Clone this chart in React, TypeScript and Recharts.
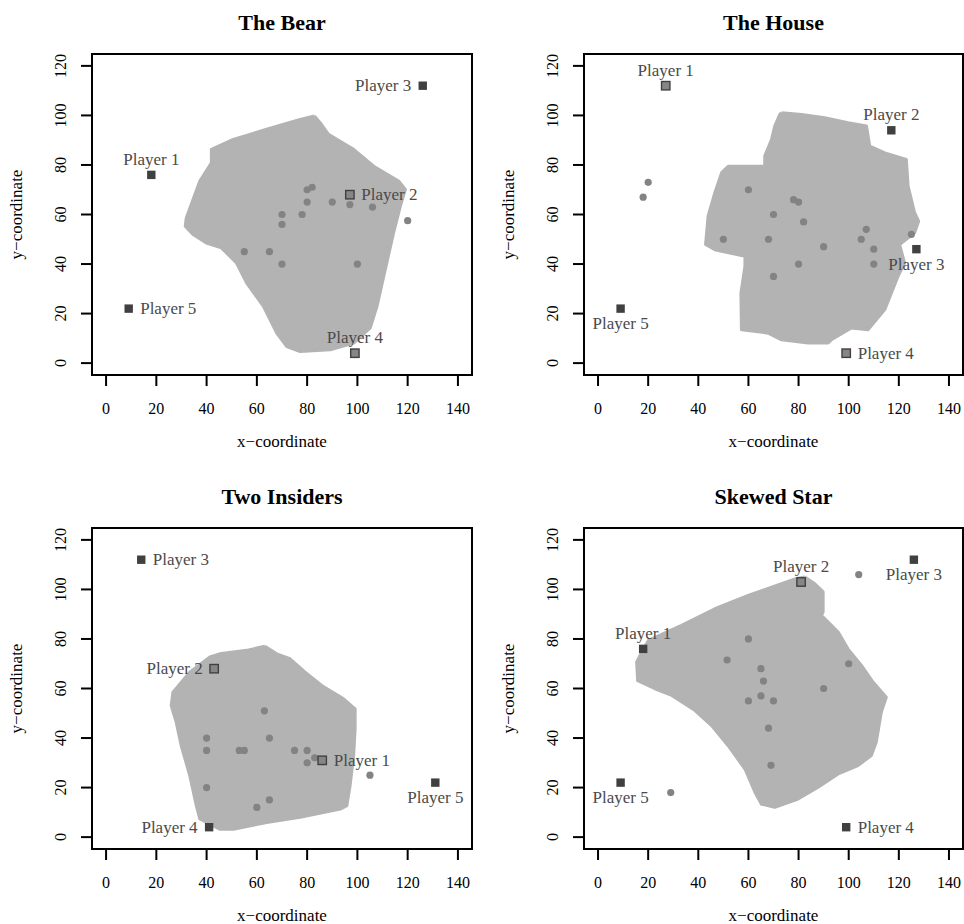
import React from 'react';
import { ScatterChart, Scatter, XAxis, YAxis, ReferenceArea } from 'recharts';

const FONT = '"Liberation Serif", "Times New Roman", Times, serif';

const X_TICKS = [0, 20, 40, 60, 80, 100, 120, 140];
const Y_TICKS = [0, 20, 40, 60, 80, 100, 120];
const X_DOMAIN: [number, number] = [-5.6, 145.6];
const Y_DOMAIN: [number, number] = [-4.8, 124.8];

const X_LABEL = 'x\u2212coordinate';
const Y_LABEL = 'y\u2212coordinate';

// ---------- The Bear ----------
const bearPlayers = [
  { name: 'Player 1', x: 18, y: 76 },
  { name: 'Player 2', x: 97, y: 68 },
  { name: 'Player 3', x: 126, y: 112 },
  { name: 'Player 4', x: 99, y: 4 },
  { name: 'Player 5', x: 9, y: 22 },
];
const bearIdeal = [
  { x: 80, y: 70 }, { x: 82, y: 71 }, { x: 80, y: 65 }, { x: 90, y: 65 }, { x: 97, y: 64 },
  { x: 106, y: 63 }, { x: 70, y: 60 }, { x: 78, y: 60 }, { x: 70, y: 56 }, { x: 120, y: 57.5 },
  { x: 55, y: 45 }, { x: 65, y: 45 }, { x: 70, y: 40 }, { x: 100, y: 40 },
];
const bearCore = [
  { x: 82.9, y: 99.8 }, { x: 85.2, y: 97.1 }, { x: 88.5, y: 92.4 }, { x: 98.5, y: 86.3 },
  { x: 106.5, y: 79.5 }, { x: 116.4, y: 73.5 }, { x: 119.1, y: 70.1 }, { x: 117.1, y: 63.4 },
  { x: 114.4, y: 52.6 }, { x: 110.5, y: 35.1 }, { x: 107.8, y: 22.9 }, { x: 105.1, y: 14.2 },
  { x: 98.5, y: 8.1 }, { x: 89.2, y: 5.4 }, { x: 77.2, y: 4.7 }, { x: 71.9, y: 6.7 },
  { x: 67.9, y: 12.1 }, { x: 62.6, y: 22.9 }, { x: 55.9, y: 32.4 }, { x: 51.9, y: 40.4 },
  { x: 45.9, y: 46.5 }, { x: 39.9, y: 48.5 }, { x: 34.6, y: 51.9 }, { x: 31.5, y: 55.3 },
  { x: 31.9, y: 58.6 }, { x: 34.6, y: 66.1 }, { x: 37.3, y: 73.5 }, { x: 41.9, y: 80.9 },
  { x: 41.9, y: 86.3 }, { x: 50.6, y: 90.3 }, { x: 63.9, y: 94.4 }, { x: 77.2, y: 98.4 },
  { x: 82.9, y: 99.8 },
];
const bearHighlighted = ['Player 2', 'Player 4'];
const bearLabelSides: Record<string, string> = {
  'Player 1': 'top', 'Player 2': 'right', 'Player 3': 'left', 'Player 4': 'top', 'Player 5': 'right',
};

// ---------- The House ----------
const housePlayers = [
  { name: 'Player 1', x: 27, y: 112 },
  { name: 'Player 2', x: 117, y: 94 },
  { name: 'Player 3', x: 127, y: 46 },
  { name: 'Player 4', x: 99, y: 4 },
  { name: 'Player 5', x: 9, y: 22 },
];
const houseIdeal = [
  { x: 20, y: 73 }, { x: 18, y: 67 }, { x: 60, y: 70 }, { x: 78, y: 66 }, { x: 80, y: 65 },
  { x: 70, y: 60 }, { x: 82, y: 57 }, { x: 50, y: 50 }, { x: 68, y: 50 }, { x: 90, y: 47 },
  { x: 107, y: 54 }, { x: 105, y: 50 }, { x: 110, y: 46 }, { x: 125, y: 52 }, { x: 80, y: 40 },
  { x: 110, y: 40 }, { x: 70, y: 35 },
];
const houseCore = [
  { x: 73.2, y: 101.1 }, { x: 81.2, y: 100.4 }, { x: 90.4, y: 99.1 }, { x: 99.7, y: 97.1 },
  { x: 107.1, y: 95.7 }, { x: 108.4, y: 87.6 }, { x: 114.4, y: 84.9 }, { x: 123.0, y: 82.2 },
  { x: 123.7, y: 71.5 }, { x: 126.3, y: 60.7 }, { x: 127.9, y: 57.3 }, { x: 126.3, y: 52.6 },
  { x: 120.3, y: 47.9 }, { x: 122.3, y: 40.4 }, { x: 119.7, y: 35.1 }, { x: 114.4, y: 21.6 },
  { x: 107.7, y: 13.5 }, { x: 101.1, y: 14.2 }, { x: 93.1, y: 9.4 }, { x: 91.8, y: 8.1 },
  { x: 83.8, y: 8.1 }, { x: 73.2, y: 9.4 }, { x: 67.9, y: 12.1 }, { x: 57.2, y: 13.5 },
  { x: 57.0, y: 28.3 }, { x: 58.6, y: 39.1 }, { x: 58.6, y: 43.1 }, { x: 46.6, y: 45.8 },
  { x: 42.9, y: 47.9 }, { x: 43.9, y: 59.3 }, { x: 46.6, y: 68.8 }, { x: 49.3, y: 76.9 },
  { x: 51.9, y: 79.5 }, { x: 66.5, y: 79.5 }, { x: 66.5, y: 83.6 }, { x: 69.2, y: 90.3 },
  { x: 70.5, y: 95.7 }, { x: 72.5, y: 100.4 }, { x: 73.2, y: 101.1 },
];
const houseHighlighted = ['Player 1', 'Player 4'];
const houseLabelSides: Record<string, string> = {
  'Player 1': 'top', 'Player 2': 'top', 'Player 3': 'bottom', 'Player 4': 'right', 'Player 5': 'bottom',
};

// ---------- Two Insiders ----------
const insidersPlayers = [
  { name: 'Player 1', x: 86, y: 31 },
  { name: 'Player 2', x: 43, y: 68 },
  { name: 'Player 3', x: 14, y: 112 },
  { name: 'Player 4', x: 41, y: 4 },
  { name: 'Player 5', x: 131, y: 22 },
];
const insidersIdeal = [
  { x: 63, y: 51 }, { x: 40, y: 40 }, { x: 65, y: 40 }, { x: 40, y: 35 }, { x: 53, y: 35 },
  { x: 55, y: 35 }, { x: 75, y: 35 }, { x: 80, y: 35 }, { x: 83, y: 32 }, { x: 80, y: 30 },
  { x: 105, y: 25 }, { x: 40, y: 20 }, { x: 65, y: 15 }, { x: 60, y: 12 },
];
const insidersCore = [
  { x: 63.2, y: 77.1 }, { x: 67.9, y: 74.0 }, { x: 73.2, y: 72.0 }, { x: 79.2, y: 66.6 },
  { x: 85.8, y: 61.2 }, { x: 94.5, y: 55.8 }, { x: 99.1, y: 51.8 }, { x: 99.1, y: 43.7 },
  { x: 98.5, y: 32.9 }, { x: 97.1, y: 20.8 }, { x: 95.8, y: 12.7 }, { x: 93.2, y: 11.3 },
  { x: 77.2, y: 8.0 }, { x: 63.9, y: 5.9 }, { x: 50.6, y: 3.2 }, { x: 45.2, y: 3.2 },
  { x: 37.3, y: 7.3 }, { x: 35.9, y: 12.7 }, { x: 33.3, y: 24.8 }, { x: 29.9, y: 36.9 },
  { x: 27.9, y: 46.4 }, { x: 25.9, y: 53.1 }, { x: 26.6, y: 58.5 }, { x: 33.3, y: 66.6 },
  { x: 41.3, y: 72.7 }, { x: 45.2, y: 74.0 }, { x: 55.9, y: 75.4 }, { x: 63.2, y: 77.1 },
];
const insidersHighlighted = ['Player 1', 'Player 2'];
const insidersLabelSides: Record<string, string> = {
  'Player 1': 'right', 'Player 2': 'left', 'Player 3': 'right', 'Player 4': 'left', 'Player 5': 'bottom',
};

// ---------- Skewed Star ----------
const starPlayers = [
  { name: 'Player 1', x: 18, y: 76 },
  { name: 'Player 2', x: 81, y: 103 },
  { name: 'Player 3', x: 126, y: 112 },
  { name: 'Player 4', x: 99, y: 4 },
  { name: 'Player 5', x: 9, y: 22 },
];
const starIdeal = [
  { x: 104, y: 106 }, { x: 60, y: 80 }, { x: 51.5, y: 71.5 }, { x: 65, y: 68 }, { x: 100, y: 70 },
  { x: 66, y: 63 }, { x: 90, y: 60 }, { x: 65, y: 57 }, { x: 60, y: 55 }, { x: 70, y: 55 },
  { x: 68, y: 44 }, { x: 69, y: 29 }, { x: 29, y: 18 },
];
const starCore = [
  { x: 82.5, y: 105.0 }, { x: 86.5, y: 102.3 }, { x: 89.8, y: 99.0 }, { x: 89.8, y: 90.9 },
  { x: 89.1, y: 89.5 }, { x: 95.8, y: 82.8 }, { x: 99.7, y: 76.0 }, { x: 105.1, y: 69.3 },
  { x: 109.7, y: 62.6 }, { x: 115.0, y: 56.5 }, { x: 113.0, y: 50.4 }, { x: 111.0, y: 38.3 },
  { x: 109.0, y: 32.9 }, { x: 103.7, y: 28.9 }, { x: 95.8, y: 25.5 }, { x: 87.8, y: 20.1 },
  { x: 79.8, y: 15.4 }, { x: 70.5, y: 12.0 }, { x: 65.2, y: 13.3 }, { x: 62.6, y: 18.1 },
  { x: 58.6, y: 27.5 }, { x: 51.9, y: 36.9 }, { x: 45.3, y: 45.0 }, { x: 38.7, y: 51.1 },
  { x: 29.4, y: 57.2 }, { x: 22.7, y: 59.9 }, { x: 15.8, y: 63.2 }, { x: 15.4, y: 70.6 },
  { x: 17.4, y: 74.7 }, { x: 20.1, y: 79.4 }, { x: 33.3, y: 85.5 }, { x: 46.6, y: 92.2 },
  { x: 59.9, y: 97.6 }, { x: 73.2, y: 102.3 }, { x: 79.2, y: 104.4 }, { x: 82.5, y: 105.0 },
];
const starHighlighted = ['Player 2'];
const starLabelSides: Record<string, string> = {
  'Player 1': 'top', 'Player 2': 'top', 'Player 3': 'bottom', 'Player 4': 'right', 'Player 5': 'bottom',
};

// ---------- styles ----------
const CORE_COLOR = '#b3b3b3';
const DOT_COLOR = '#838383';
const DARK = '#404040';
const LABEL_COLOR = '#4a4a4a';

const PANEL_W = 482;
const PANEL_H = 462;
const X_AXIS_H = 40;

const FRAMES = [
  { left: 0, top: 0, boxLeft: 92, boxRight: 472, boxTop: 54, boxBottom: 375 },
  { left: 482, top: 0, boxLeft: 102, boxRight: 481, boxTop: 54, boxBottom: 375 },
  { left: 0, top: 462, boxLeft: 92, boxRight: 472, boxTop: 66, boxBottom: 387 },
  { left: 482, top: 462, boxLeft: 102, boxRight: 481, boxTop: 66, boxBottom: 387 },
];

const XTick = (props: any) => {
  const { x, y, payload } = props;
  return (
    <text x={x} y={y} dy="0.71em" textAnchor="middle" fontFamily={FONT} fontSize={16} fill="#000">
      {payload.value}
    </text>
  );
};

const YTick = (props: any) => {
  const { x, y, payload } = props;
  return (
    <text x={x} y={y} transform={`rotate(-90 ${x} ${y})`} textAnchor="middle" fontFamily={FONT} fontSize={16} fill="#000">
      {payload.value}
    </text>
  );
};

const hiddenShape = () => <g />;

const dotShape = (p: any) => <circle cx={p.cx} cy={p.cy} r={3.6} fill={DOT_COLOR} />;

const makePlayerShape = (highlighted: string[], sides: Record<string, string>) => (p: any) => {
  const { cx, cy, payload } = p;
  const hl = highlighted.includes(payload.name);
  const s = 8.4;
  const side = sides[payload.name];
  let tx = cx;
  let ty = cy;
  let anchor = 'middle';
  if (side === 'right') { tx = cx + 11.5; ty = cy + 5.6; anchor = 'start'; }
  else if (side === 'left') { tx = cx - 11.5; ty = cy + 5.6; anchor = 'end'; }
  else if (side === 'top') { tx = cx; ty = cy - 10; anchor = 'middle'; }
  else { tx = cx; ty = cy + 20.5; anchor = 'middle'; }
  return (
    <g>
      <rect
        x={cx - s / 2}
        y={cy - s / 2}
        width={s}
        height={s}
        fill={hl ? '#868686' : DARK}
        stroke={hl ? DARK : 'none'}
        strokeWidth={1.4}
      />
      <text x={tx} y={ty} textAnchor={anchor} fontFamily={FONT} fontSize={17} fill={LABEL_COLOR}>
        {payload.name}
      </text>
    </g>
  );
};

function Panel(props: any) {
  const { title, players, ideal, core, highlighted, sides, frame } = props;
  const { left, top, boxLeft, boxRight, boxTop, boxBottom } = frame;
  const boxW = boxRight - boxLeft;
  const midY = (boxTop + boxBottom) / 2;
  return (
    <div style={{ position: 'absolute', left, top, width: PANEL_W, height: PANEL_H }}>
      <ScatterChart
        width={PANEL_W}
        height={PANEL_H}
        margin={{ top: boxTop, right: PANEL_W - boxRight, bottom: PANEL_H - boxBottom - X_AXIS_H, left: 0 }}
      >
        <XAxis
          type="number"
          dataKey="x"
          domain={X_DOMAIN}
          ticks={X_TICKS}
          allowDataOverflow
          interval={0}
          axisLine={false}
          tickSize={11}
          tickMargin={17}
          tickLine={{ stroke: '#000', strokeWidth: 2 }}
          tick={(t: any) => <XTick {...t} />}
          height={X_AXIS_H}
        />
        <YAxis
          type="number"
          dataKey="y"
          domain={Y_DOMAIN}
          ticks={Y_TICKS}
          allowDataOverflow
          interval={0}
          axisLine={false}
          tickSize={11}
          tickMargin={15}
          tickLine={{ stroke: '#000', strokeWidth: 2 }}
          tick={(t: any) => <YTick {...t} />}
          width={boxLeft}
        />
        <Scatter
          data={core}
          fill={CORE_COLOR}
          shape={hiddenShape}
          line={{ fill: CORE_COLOR, stroke: CORE_COLOR, strokeWidth: 3, strokeLinejoin: 'round' }}
          lineType="joint"
          isAnimationActive={false}
        />
        <Scatter data={ideal} fill={DOT_COLOR} shape={dotShape} isAnimationActive={false} />
        <Scatter data={players} fill={DARK} shape={makePlayerShape(highlighted, sides)} isAnimationActive={false} />
        <ReferenceArea
          x1={X_DOMAIN[0]}
          x2={X_DOMAIN[1]}
          y1={Y_DOMAIN[0]}
          y2={Y_DOMAIN[1]}
          fill="none"
          fillOpacity={0}
          stroke="#000"
          strokeWidth={2}
          ifOverflow="visible"
        />
      </ScatterChart>
      <div
        style={{
          position: 'absolute', left: boxLeft, top: boxTop - 31.5 - 11, width: boxW, height: 22,
          lineHeight: '22px', fontSize: 22, fontWeight: 'bold', fontFamily: FONT, textAlign: 'center', color: '#000',
        }}
      >
        {title}
      </div>
      <div
        style={{
          position: 'absolute', left: boxLeft, top: boxBottom + 57.8, width: boxW, height: 17,
          lineHeight: '17px', fontSize: 17, fontFamily: FONT, textAlign: 'center', color: '#000', whiteSpace: 'nowrap',
        }}
      >
        {X_LABEL}
      </div>
      <div
        style={{
          position: 'absolute', left: boxLeft - 75.8 - 100, top: midY - 8.5, width: 200, height: 17,
          lineHeight: '17px', fontSize: 17, fontFamily: FONT, textAlign: 'center', color: '#000',
          transform: 'rotate(-90deg)', whiteSpace: 'nowrap',
        }}
      >
        {Y_LABEL}
      </div>
    </div>
  );
}

export default function App() {
  return (
    <div style={{ position: 'absolute', left: 0, top: 0, width: 964, height: 924, background: '#fff', overflow: 'hidden' }}>
      <Panel title="The Bear" players={bearPlayers} ideal={bearIdeal} core={bearCore}
        highlighted={bearHighlighted} sides={bearLabelSides} frame={FRAMES[0]} />
      <Panel title="The House" players={housePlayers} ideal={houseIdeal} core={houseCore}
        highlighted={houseHighlighted} sides={houseLabelSides} frame={FRAMES[1]} />
      <Panel title="Two Insiders" players={insidersPlayers} ideal={insidersIdeal} core={insidersCore}
        highlighted={insidersHighlighted} sides={insidersLabelSides} frame={FRAMES[2]} />
      <Panel title="Skewed Star" players={starPlayers} ideal={starIdeal} core={starCore}
        highlighted={starHighlighted} sides={starLabelSides} frame={FRAMES[3]} />
    </div>
  );
}
